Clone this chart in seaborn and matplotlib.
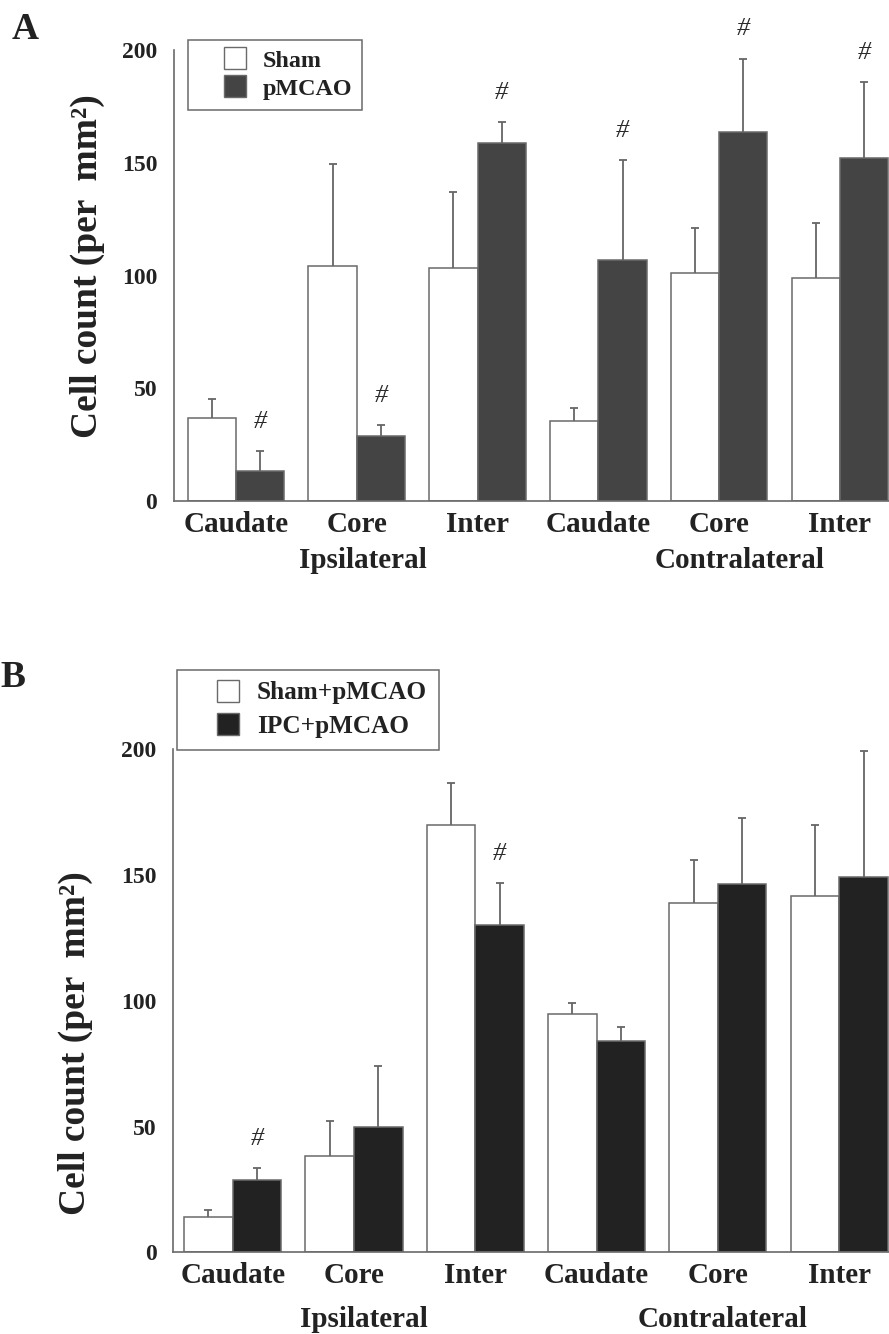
import numpy as np
import pandas as pd
import matplotlib
matplotlib.use("Agg")
import matplotlib.pyplot as plt
import seaborn as sns
from matplotlib.lines import Line2D

# ---------------- data ----------------
regions = ["Caudate", "Core", "Inter", "Caudate", "Core", "Inter"]
sides = ["Ipsilateral", "Contralateral"]
keys = [f"{s} {r}" for s in sides for r in ["Caudate", "Core", "Inter"]]
yticks = [0, 50, 100, 150, 200]

A_groups = ["Sham", "pMCAO"]
A_sham = [36.9, 104.1, 103.5, 35.3, 101.1, 98.9]
A_sham_err = [8.2, 45.5, 33.7, 6.1, 19.8, 24.2]
A_pmcao = [13.3, 28.8, 158.6, 107.0, 163.8, 152.0]
A_pmcao_err = [8.7, 5.0, 9.5, 44.1, 32.4, 33.9]
A_sham_sig = [0, 0, 0, 0, 0, 0]
A_pmcao_sig = [1, 1, 1, 1, 1, 1]

B_groups = ["Sham+pMCAO", "IPC+pMCAO"]
B_sham = [14.0, 38.3, 169.9, 94.8, 138.9, 141.8]
B_sham_err = [2.9, 13.9, 16.7, 4.4, 16.9, 28.0]
B_ipc = [28.7, 49.9, 130.1, 83.8, 146.2, 149.2]
B_ipc_err = [4.9, 24.3, 16.8, 5.8, 26.5, 50.0]
B_sham_sig = [0, 0, 0, 0, 0, 0]
B_ipc_sig = [1, 0, 1, 0, 0, 0]

ylabel = "Cell count (per  mm²)"

# ---------------- style ----------------
sns.set_style("white")
plt.rcParams["font.family"] = ["Liberation Serif", "DejaVu Serif"]
plt.rcParams["font.weight"] = "bold"
EDGE = "#6a6a6a"
ERR = "#666666"

fig = plt.figure(figsize=(8.89, 13.34), dpi=100)
axA = fig.add_axes([0.1957, 0.6244, 0.8043, 0.3381])
axB = fig.add_axes([0.1949, 0.0612, 0.8051, 0.3773])


def panel(ax, groups, means, errs, sigs, colors, xlim, leg_anchor, leg_fs,
          label_xy, side_x, leg_spacing, leg_pad):
    df = pd.DataFrame({
        "key": keys * 2,
        "group": [g for g in groups for _ in keys],
        "value": list(means[0]) + list(means[1]),
    })
    sns.barplot(data=df, x="key", y="value", hue="group", order=keys,
                hue_order=groups, palette=dict(zip(groups, colors)),
                width=0.8, errorbar=None, edgecolor=EDGE, linewidth=1.1,
                saturation=1, legend=False, ax=ax, zorder=2)
    for cont, err, sg in zip(ax.containers, errs, sigs):
        xs = [b.get_x() + b.get_width() / 2 for b in cont]
        hs = [b.get_height() for b in cont]
        eb = ax.errorbar(xs, hs, yerr=[np.zeros(len(err)), err], fmt="none",
                         ecolor=ERR, elinewidth=1.3, capsize=2.6,
                         capthick=1.3, zorder=3)
        if len(eb[1]) == 2:
            eb[1][0].set_visible(False)
        for x, h, e, s in zip(xs, hs, err, sg):
            if s:
                ax.annotate("#", (x, h + e), xytext=(0, 21),
                            textcoords="offset points", ha="center",
                            va="center", fontsize=19, fontweight="normal",
                            fontstyle="italic", color="#2a2a2a")
    ax.set_ylim(0, 200)
    ax.set_xlim(*xlim)
    ax.set_yticks(yticks)
    ax.set_yticklabels([str(t) for t in yticks], fontsize=17, fontweight="bold")
    ax.set_xticks(range(len(keys)))
    ax.set_xticklabels(regions, fontsize=21, fontweight="bold")
    ax.tick_params(axis="x", length=0, pad=7, colors="#222222")
    ax.tick_params(axis="y", length=7, width=1.2, color=EDGE, pad=5,
                   labelcolor="#222222")
    ax.set_xlabel("")
    ax.set_ylabel(ylabel, fontsize=27, fontweight="bold", color="#222222")
    ax.yaxis.set_label_coords(*label_xy)
    sns.despine(ax=ax)
    for sp in ["left", "bottom"]:
        ax.spines[sp].set_color(EDGE)
        ax.spines[sp].set_linewidth(1.2)
    for xi, side in zip(side_x, sides):
        ax.text(xi, -0.148, side, transform=ax.get_xaxis_transform(),
                ha="center", va="baseline", fontsize=21, fontweight="bold",
                color="#222222")
    handles = [Line2D([], [], marker="s", linestyle="none", markersize=15.8,
                      markerfacecolor=c, markeredgecolor=EDGE,
                      markeredgewidth=1.0) for c in colors]
    leg = ax.legend(handles, groups, loc="upper left",
                    bbox_to_anchor=leg_anchor, borderaxespad=0,
                    prop={"size": leg_fs, "weight": "bold",
                          "family": ["Liberation Serif"]},
                    frameon=True, fancybox=False, framealpha=1,
                    edgecolor=EDGE, handlelength=3.1, handletextpad=-0.4,
                    labelspacing=leg_spacing, borderpad=leg_pad)
    leg.get_frame().set_linewidth(1.1)
    for t in leg.get_texts():
        t.set_color("#222222")


panel(axA, A_groups, [A_sham, A_pmcao], [A_sham_err, A_pmcao_err],
      [A_sham_sig, A_pmcao_sig], ["#ffffff", "#444444"],
      (-0.513, 5.406), (0.0196, 1.022), 17.4, (-0.097, 0.521),
      (1.05, 4.17), 0.26, 0.4)
panel(axB, B_groups, [B_sham, B_ipc], [B_sham_err, B_ipc_err],
      [B_sham_sig, B_ipc_sig], ["#ffffff", "#222222"],
      (-0.49, 5.41), (0.0048, 1.158), 18.2, (-0.112, 0.416),
      (1.08, 4.04), 0.41, 0.47)

fig.text(0.0135, 0.9708, "A", fontsize=27, fontweight="bold", ha="left",
         va="baseline", color="#222222")
fig.text(0.001, 0.4852, "B", fontsize=27, fontweight="bold", ha="left",
         va="baseline", color="#222222")

fig.savefig("out.png", dpi=100)
